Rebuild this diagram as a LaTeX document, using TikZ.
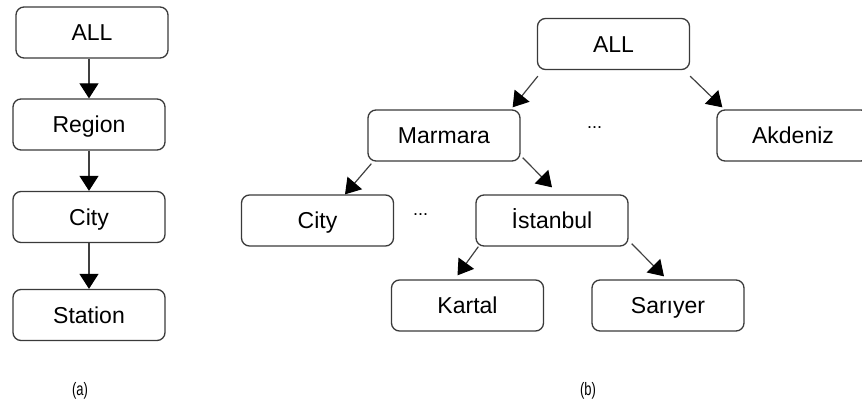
\documentclass[tikz,border=0pt]{standalone}
\usepackage{fontspec}
\usepackage{graphicx}
\setmainfont{Liberation Sans}
\usetikzlibrary{arrows.meta,calc}
\definecolor{boxgray}{HTML}{3A3A3A}
\definecolor{linegray}{HTML}{404040}
\newcommand{\narrowtext}[1]{\scalebox{0.72}[1]{#1}}
\begin{document}
\begin{tikzpicture}[x=1pt,y=-1pt,
  box/.style={draw=boxgray,line width=1.3pt,rounded corners=8pt,
    minimum width=152pt,minimum height=51pt,inner sep=0pt,
    text height=16pt,text depth=0pt,font=\fontsize{23}{26}\selectfont},
  arr/.style={draw=linegray,line width=1.2pt,
    -{Triangle[width=19pt,length=15pt,color=black]}},
  dots/.style={anchor=base,inner sep=0pt,font=\fontsize{18}{20}\selectfont},
  caption/.style={inner sep=0pt,font=\fontsize{18}{20}\selectfont}]
\useasboundingbox (0,0) rectangle (862,407);

% (a) concept hierarchy
\node[box] (l0) at (92,32.5) {ALL};
\node[box] (l1) at (89,124.5) {Region};
\node[box] (l2) at (89,217) {City};
\node[box] (l3) at (89,315) {Station};
\draw[arr] (l0.south -| l1) -- (l1.north);
\draw[arr] (l1.south) -- (l2.north);
\draw[arr] (l2.south) -- (l3.north);
\node[caption] (capa) at (80,391) {\narrowtext{(a)}};

% (b) instance tree
\node[box] (all)  at (613.5,44)  {ALL};
\node[box] (mar)  at (444,135.5) {Marmara};
\node[box] (akd)  at (793,135.5) {Akdeniz};
\node[box] (city) at (317.5,220.5) {City};
\node[box] (ist)  at (552,220.5) {İstanbul};
\node[box] (kar)  at (467.5,305.5) {Kartal};
\node[box] (sar)  at (668,305.5) {Sarıyer};
\node[dots] (d1) at (594.5,128.5) {...};
\node[dots] (d2) at (420.5,215.5) {...};

\draw[arr] ($(all.south west)+(1,6)$) -- ($(mar.north east)+(-8,-2)$);
\draw[arr] ($(all.south east)+(0,6)$) -- ($(akd.north west)+(6,-2)$);
\draw[arr] ($(mar.south west)+(4,2)$) -- ($(city.north)+(27.5,0)$);
\draw[arr] ($(mar.south east)+(2,-4)$) -- ($(ist.north)+(0,-7)$);
\draw[arr] ($(ist.south west)+(3,0)$) -- ($(kar.north)+(-10,-4)$);
\draw[arr] ($(ist.south east)+(3,-3)$) -- ($(sar.north)+(-4,-3)$);
\node[caption] (capb) at (588,391) {\narrowtext{(b)}};
\end{tikzpicture}
\end{document}
